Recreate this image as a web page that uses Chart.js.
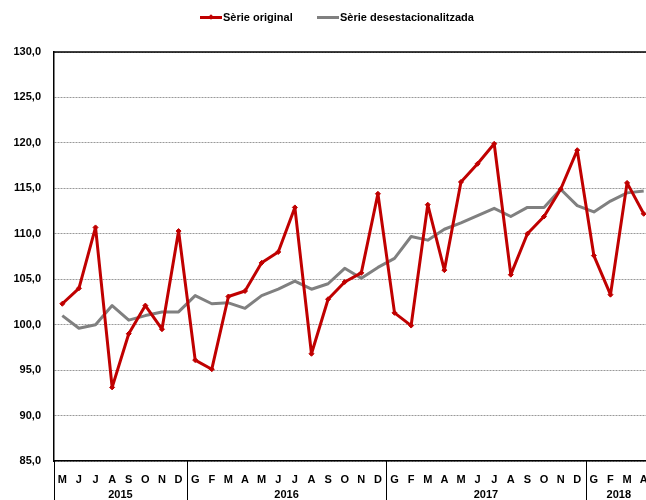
<!DOCTYPE html>
<html lang="ca">
<head>
<meta charset="UTF-8">
<title>Sèrie original i desestacionalitzada</title>
<style>
    body { margin: 0; padding: 0; background: #fff; overflow: hidden; width: 646px; height: 500px; }
    .wrap { position: relative; width: 660px; height: 500px; }
    .legend { position: absolute; top: 10px; left: 0; font: bold 11px "Liberation Sans", Arial, sans-serif; color: #000; }
    .item { position: absolute; white-space: nowrap; line-height: 14px; }
    .line { display: inline-block; position: relative; width: 22px; height: 3px; vertical-align: middle; margin-right: 1px; top: -1px; }
    .line .dot { position: absolute; left: 9px; top: -1px; width: 4px; height: 4px; transform: rotate(45deg); }
</style>
</head>
<body>
<div class="wrap">
    <canvas id="chart" width="660" height="500"></canvas>
    <div class="legend">
        <span class="item" style="left:200px"><span class="line" style="background:#c00000"><span class="dot" style="background:#c00000"></span></span>Sèrie original</span>
        <span class="item" style="left:317px"><span class="line" style="background:#808080"></span>Sèrie desestacionalitzada</span>
    </div>
</div>

<script src="https://cdn.jsdelivr.net/npm/chart.js"></script>
<script>
    // Month initials (Catalan), May 2015 - April 2018
    const months = ['M','J','J','A','S','O','N','D',
        'G','F','M','A','M','J','J','A','S','O','N','D',
        'G','F','M','A','M','J','J','A','S','O','N','D',
        'G','F','M','A'];
    const years = ['2015', '2016', '2017', '2018'];
    const yearMonths = [8, 12, 12, 4];

    const original = [102.3, 104.0, 110.7, 93.1, 99.0, 102.1, 99.5, 110.3,
        96.1, 95.1, 103.1, 103.7, 106.8, 108.0, 112.9, 96.8, 102.8, 104.7, 105.7, 114.4,
        101.3, 99.9, 113.2, 106.0, 115.7, 117.7, 119.9, 105.5, 110.0, 111.9, 114.9, 119.2,
        107.6, 103.3, 115.6, 112.2];
    const seasonal = [101.0, 99.6, 100.0, 102.1, 100.5, 101.0, 101.4, 101.4,
        103.2, 102.3, 102.4, 101.8, 103.2, 103.9, 104.8, 103.9, 104.5, 106.2, 105.1, 106.3,
        107.3, 109.7, 109.3, 110.5, 111.2, 112.0, 112.8, 111.9, 112.9, 112.9, 114.9, 113.1,
        112.4, 113.6, 114.5, 114.7];

    const FONT = '"Liberation Sans", Arial, sans-serif';

    // year separators, year labels and the top frame line
    const yearAxis = {
        id: 'yearAxis',
        afterDraw(chart) {
            const ctx = chart.ctx;
            const area = chart.chartArea;
            const step = (area.right - area.left) / months.length;
            ctx.save();
            ctx.strokeStyle = '#000';
            ctx.lineWidth = 1.5;
            ctx.beginPath();
            ctx.moveTo(area.left, area.top);
            ctx.lineTo(area.right, area.top);
            ctx.stroke();
            ctx.lineWidth = 1;
            ctx.fillStyle = '#000';
            ctx.font = 'bold 11px ' + FONT;
            ctx.textAlign = 'center';
            ctx.textBaseline = 'middle';
            let start = 0;
            years.forEach((yr, i) => {
                const x0 = area.left + start * step;
                const x1 = x0 + yearMonths[i] * step;
                ctx.beginPath();
                ctx.moveTo(Math.round(x0) + 0.5, area.bottom);
                ctx.lineTo(Math.round(x0) + 0.5, chart.height);
                ctx.stroke();
                ctx.fillText(yr, (x0 + x1) / 2, area.bottom + 34);
                start += yearMonths[i];
            });
            ctx.restore();
        }
    };

    new Chart(document.getElementById('chart'), {
        type: 'line',
        data: {
            labels: months,
            datasets: [{
                label: 'Sèrie original',
                data: original,
                borderColor: '#c00000',
                backgroundColor: '#c00000',
                borderWidth: 3,
                borderJoinStyle: 'round',
                pointStyle: 'rectRot',
                pointRadius: 2.5,
                pointBorderWidth: 1,
                tension: 0,
                order: 1
            }, {
                label: 'Sèrie desestacionalitzada',
                data: seasonal,
                borderColor: '#808080',
                backgroundColor: '#808080',
                borderWidth: 3,
                borderJoinStyle: 'round',
                pointRadius: 0,
                tension: 0,
                order: 2
            }]
        },
        options: {
            responsive: false,
            animation: false,
            layout: { padding: { top: 52, right: 8, left: 0, bottom: 0 } },
            plugins: { legend: { display: false }, tooltip: { enabled: false } },
            scales: {
                x: {
                    offset: true,
                    grid: { display: false, offset: true },
                    border: { display: true, color: '#000', width: 1.5 },
                    ticks: {
                        autoSkip: false, maxRotation: 0, color: '#000', padding: 4,
                        font: { family: FONT, size: 11, weight: 'bold' }
                    },
                    afterFit(scale) { scale.height = 39; }
                },
                y: {
                    min: 85, max: 130,
                    grid: { color: '#999', lineWidth: 1, drawTicks: false },
                    border: { display: true, color: '#000', width: 1.5, dash: [2, 1] },
                    ticks: {
                        stepSize: 5, color: '#000', padding: 13,
                        font: { family: FONT, size: 11, weight: 'bold' },
                        callback: v => v.toFixed(1).replace('.', ',')
                    },
                    afterFit(scale) { scale.width = 54; }
                }
            }
        },
        plugins: [yearAxis]
    });
</script>
</body>
</html>
